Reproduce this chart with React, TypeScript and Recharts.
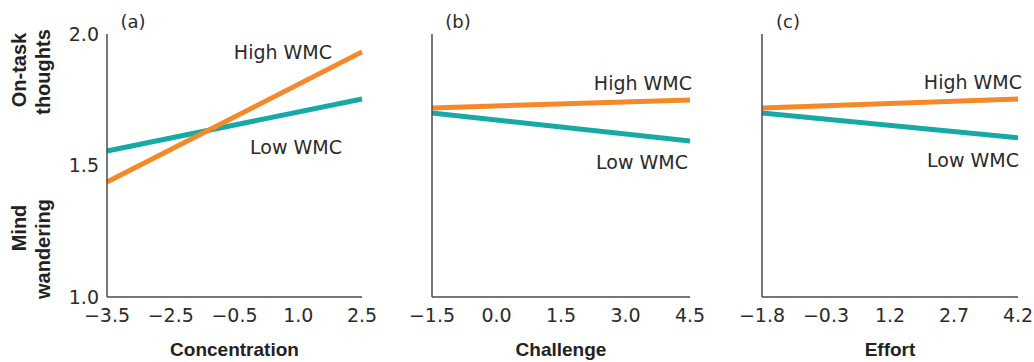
import { LineChart, Line, XAxis, YAxis, Label } from 'recharts';

// tick labels are evenly spaced in the figure, so they're treated as categories
const concentrationTicks = ['−3.5', '−2.5', '−0.5', '1.0', '2.5'];
const challengeTicks = ['−1.5', '0.0', '1.5', '3.0', '4.5'];
const effortTicks = ['−1.8', '−0.3', '1.2', '2.7', '4.2'];

// [start, end] of each fitted line
const highConcentration = [1.437, 1.932];
const lowConcentration = [1.555, 1.753];
const highChallenge = [1.719, 1.749];
const lowChallenge = [1.7, 1.593];
const highEffort = [1.719, 1.753];
const lowEffort = [1.7, 1.605];

const yTicks = [1.0, 1.5, 2.0];

const ORANGE = '#F5892A';
const TEAL = '#16A9A6';
const AXIS = '#4a4a4a';
const INK = '#2b2b2b';
const TICK_FONT = 'DejaVu Sans, sans-serif';
const BOLD_FONT = 'Liberation Sans, Arial, sans-serif';

type Row = { label: string; high: number | null; low: number | null };

const buildRows = (labels: string[], high: number[], low: number[]): Row[] =>
  labels.map((label, i) => {
    const last = i === labels.length - 1;
    return {
      label,
      high: i === 0 ? high[0] : last ? high[1] : null,
      low: i === 0 ? low[0] : last ? low[1] : null,
    };
  });

const endLabel = (text: string, dx: number, dy: number, lastIndex: number) => (props: any) => {
  const { x, y, index } = props;
  if (index !== lastIndex || x == null || y == null) return null;
  return (
    <text
      key={text}
      x={x + dx}
      y={y + dy}
      textAnchor="end"
      dominantBaseline="central"
      fontSize={19}
      fontFamily={TICK_FONT}
      fill={INK}
    >
      {text}
    </text>
  );
};

type PanelProps = {
  left: number;
  width: number;
  axisWidth: number;
  rightMargin: number;
  ticks: string[];
  high: number[];
  low: number[];
  title: string;
  letter: string;
  showYTicks: boolean;
  highOffset: [number, number];
  lowOffset: [number, number];
  children?: any;
};

const Panel = ({
  left, width, axisWidth, rightMargin, ticks, high, low, title, letter,
  showYTicks, highOffset, lowOffset, children,
}: PanelProps) => {
  const rows = buildRows(ticks, high, low);
  const last = rows.length - 1;
  return (
    <div style={{ position: 'absolute', left, top: 0 }}>
      <LineChart
        width={width}
        height={362}
        data={rows}
        margin={{ top: 34, right: rightMargin, bottom: 35, left: 0 }}
      >
        <XAxis
          dataKey="label"
          type="category"
          interval={0}
          height={30}
          tickLine={false}
          tickSize={0}
          tickMargin={12}
          axisLine={{ stroke: AXIS, strokeWidth: 1.5 }}
          tick={{ fontSize: 19, fontFamily: TICK_FONT, fill: INK }}
        >
          <Label
            value={title}
            position="bottom"
            offset={16}
            style={{ fontSize: 19, fontWeight: 700, fontFamily: BOLD_FONT, fill: '#222' }}
          />
        </XAxis>
        <YAxis
          type="number"
          domain={[1, 2]}
          ticks={yTicks}
          width={axisWidth}
          tickLine={false}
          tickSize={0}
          tickMargin={8}
          tick={showYTicks ? { fontSize: 19, fontFamily: TICK_FONT, fill: INK } : false}
          tickFormatter={(v: number) => v.toFixed(1)}
          axisLine={{ stroke: AXIS, strokeWidth: 1.5 }}
        />
        <Line
          type="linear"
          dataKey="low"
          stroke={TEAL}
          strokeWidth={5}
          dot={false}
          connectNulls
          isAnimationActive={false}
          label={endLabel('Low WMC', lowOffset[0], lowOffset[1], last)}
        />
        <Line
          type="linear"
          dataKey="high"
          stroke={ORANGE}
          strokeWidth={5}
          dot={false}
          connectNulls
          isAnimationActive={false}
          label={endLabel('High WMC', highOffset[0], highOffset[1], last)}
        />
        <text
          x={axisWidth + 26}
          y={21}
          textAnchor="middle"
          dominantBaseline="central"
          fontSize={18}
          fontFamily={TICK_FONT}
          fill={INK}
        >
          {letter}
        </text>
        {children}
      </LineChart>
    </div>
  );
};

const sideText = (text: string, x: number, y: number) => (
  <text
    key={text}
    transform={`translate(${x},${y}) rotate(-90)`}
    textAnchor="middle"
    fontSize={20}
    fontWeight={700}
    fontFamily={BOLD_FONT}
    fill="#222"
  >
    {text}
  </text>
);

export default function App() {
  return (
    <div style={{ position: 'absolute', left: 0, top: 0, width: 1034, height: 362, background: '#fff' }}>
      <Panel
        left={0}
        width={380}
        axisWidth={107}
        rightMargin={18}
        ticks={concentrationTicks}
        high={highConcentration}
        low={lowConcentration}
        title="Concentration"
        letter="(a)"
        showYTicks
        highOffset={[-30, 0]}
        lowOffset={[-20, 48]}
      >
        {sideText('On-task', 26, 70)}
        {sideText('thoughts', 50, 72)}
        {sideText('Mind', 26, 228)}
        {sideText('wandering', 50, 249)}
      </Panel>
      <Panel
        left={380}
        width={330}
        axisWidth={52}
        rightMargin={20}
        ticks={challengeTicks}
        high={highChallenge}
        low={lowChallenge}
        title="Challenge"
        letter="(b)"
        showYTicks={false}
        highOffset={[2, -17]}
        lowOffset={[-2, 21]}
      />
      <Panel
        left={704}
        width={330}
        axisWidth={58}
        rightMargin={16}
        ticks={effortTicks}
        high={highEffort}
        low={lowEffort}
        title="Effort"
        letter="(c)"
        showYTicks={false}
        highOffset={[4, -17]}
        lowOffset={[1, 22]}
      />
    </div>
  );
}
